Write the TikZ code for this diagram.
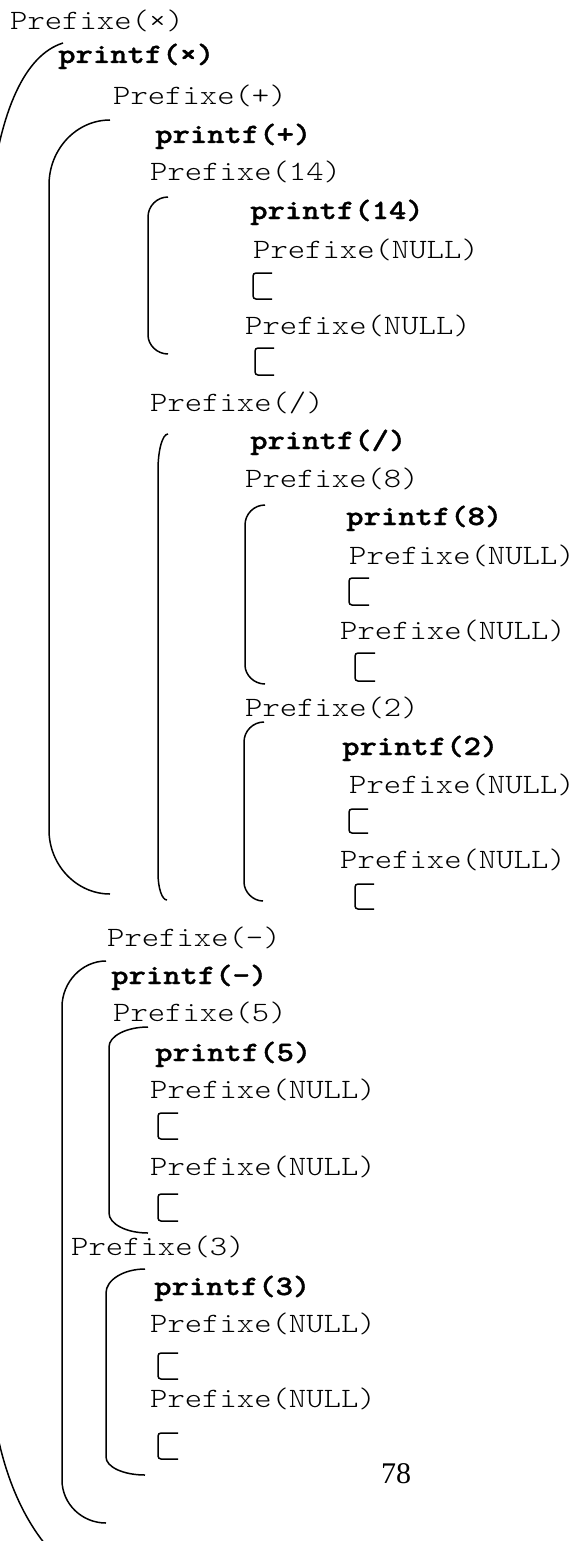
\documentclass[tikz,border=0pt]{standalone}
\usepackage{fontspec}
\setmainfont{Liberation Serif}
% light typewriter face, widened to a Courier-like advance
\newfontfamily\codefont{lmmonolt10-regular.otf}[BoldFont=lmmonolt10-bold.otf, FakeStretch=1.18, BoldFeatures={FakeBold=1.2}]
\begin{document}
\begin{tikzpicture}[x=1pt,y=-1pt,
  call/.style={anchor=base west, inner sep=0pt, font=\codefont\fontsize{28}{30}\selectfont},
  shown/.style={anchor=base west, inner sep=0pt, font=\codefont\bfseries\fontsize{28}{30}\selectfont},
  brace/.style={line width=1.5pt},
  leaf/.style={line width=1.5pt, rounded corners=3pt}]
\useasboundingbox (0,0) rectangle (573,1541);
\begin{scope}
\clip (0,0) rectangle (573,1541);

% call trace, one line per call
\node[call]  (px)  at (10,30)   {Prefixe(×)};
\node[shown] (fx)  at (58,63)   {printf(×)};
\node[call]  (pp)  at (113,105) {Prefixe(+)};
\node[shown] (fp)  at (155,143) {printf(+)};
\node[call]  (p14) at (150,181) {Prefixe(14)};
\node[shown] (f14) at (250,219) {printf(14)};
\node[call]  (n1)  at (253,258) {Prefixe(NULL)};
\node[call]  (n2)  at (245,334) {Prefixe(NULL)};
\node[call]  (pd)  at (150,411) {Prefixe(/)};
\node[shown] (fd)  at (250,449) {printf(/)};
\node[call]  (p8)  at (245,487) {Prefixe(8)};
\node[shown] (f8)  at (346,525) {printf(8)};
\node[call]  (n3)  at (349,564) {Prefixe(NULL)};
\node[call]  (n4)  at (340,639) {Prefixe(NULL)};
\node[call]  (p2)  at (245,716) {Prefixe(2)};
\node[shown] (f2)  at (342,755) {printf(2)};
\node[call]  (n5)  at (349,793) {Prefixe(NULL)};
\node[call]  (n6)  at (340,868) {Prefixe(NULL)};
\node[call]  (pm)  at (107,946) {Prefixe(-)};
\node[shown] (fm)  at (111,984) {printf(-)};
\node[call]  (p5)  at (113,1021) {Prefixe(5)};
\node[shown] (f5)  at (155,1061) {printf(5)};
\node[call]  (n7)  at (150,1098) {Prefixe(NULL)};
\node[call]  (n8)  at (150,1175) {Prefixe(NULL)};
\node[call]  (p3)  at (71,1255)  {Prefixe(3)};
\node[shown] (f3)  at (154,1295) {printf(3)};
\node[call]  (n9)  at (150,1332) {Prefixe(NULL)};
\node[call]  (n10) at (150,1407) {Prefixe(NULL)};
\node[anchor=base west, inner sep=0pt, font=\fontsize{30}{32}\selectfont] (pg) at (381,1483) {78};

% recursion brackets
\draw[brace] (63,43) .. controls (25,55) and (0,110) .. (-10,200) -- (-10,1380)
  .. controls (-5,1450) and (15,1510) .. (50,1550);
\draw[brace] (110,120) .. controls (76.5,120) and (49,149) .. (49,185) -- (49,830)
  .. controls (49,865) and (76.5,894) .. (110,894);
\draw[brace] (168,197) .. controls (157,197) and (148,206) .. (148,217) -- (148,335)
  .. controls (148,345) and (157,354) .. (168,354);
\draw[brace] (168,434) .. controls (162.5,434) and (158,450) .. (158,470) -- (158,873)
  .. controls (158,888) and (162,900) .. (167,900);
\draw[brace] (265,505) .. controls (254,505) and (245,514) .. (245,525) -- (245,665)
  .. controls (245,675) and (254,684) .. (265,684);
\draw[brace] (264,722) .. controls (253,722) and (244,731) .. (244,742) -- (244,882)
  .. controls (244,892) and (253,901) .. (263,901);
\draw[brace] (106,961) .. controls (82,961) and (62,982) .. (62,1007) -- (62,1480)
  .. controls (62,1504) and (82,1523) .. (106,1523);
\draw[brace] (148,1027) .. controls (126.5,1027) and (109,1036) .. (109,1047) -- (109,1213)
  .. controls (109,1224) and (126.5,1233) .. (148,1233);
\draw[brace] (145,1269) .. controls (123.5,1269) and (106,1280) .. (106,1293) -- (106,1457)
  .. controls (106,1467) and (123.5,1475) .. (145,1475);

% empty calls on NULL
\draw[leaf] (272,273) -- (253,273) -- (253,299) -- (272,299);
\draw[leaf] (274,348) -- (255,348) -- (255,375) -- (274,375);
\draw[leaf] (369,578) -- (349,578) -- (349,605) -- (369,605);
\draw[leaf] (375,653) -- (355,653) -- (355,681) -- (375,681);
\draw[leaf] (368,809) -- (349,809) -- (349,833) -- (368,833);
\draw[leaf] (374,884) -- (355,884) -- (355,909) -- (374,909);
\draw[leaf] (178,1113) -- (158,1113) -- (158,1139) -- (178,1139);
\draw[leaf] (178,1194) -- (158,1194) -- (158,1221) -- (178,1221);
\draw[leaf] (178,1353) -- (158,1353) -- (158,1379) -- (178,1379);
\draw[leaf] (178,1433) -- (158,1433) -- (158,1459) -- (178,1459);
\end{scope}
\end{tikzpicture}
\end{document}
